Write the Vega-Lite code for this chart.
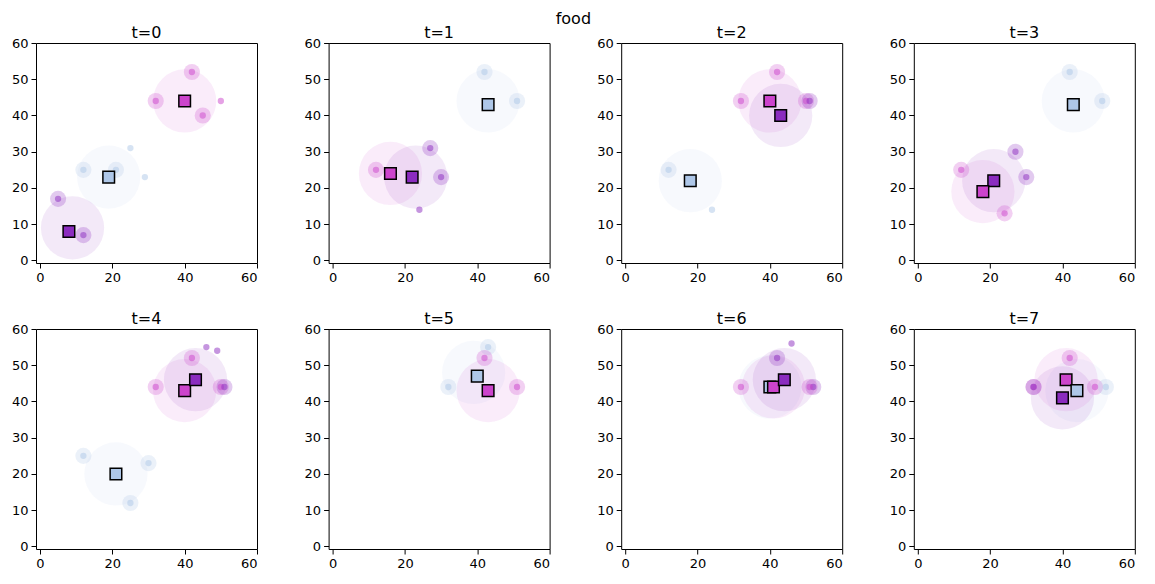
{
  "$schema": "https://vega.github.io/schema/vega-lite/v6.json",
  "padding": {"left": 10, "top": 10, "right": 15, "bottom": 3},
  "title": {"text": "food", "fontSize": 16, "fontWeight": "normal", "font": "DejaVu Sans", "color": "#000", "offset": -2, "anchor": "middle"},
  "data": {"values": [
    {"t":0,"kind":"cloud","c":"pink","x":40,"y":44},
    {"t":0,"kind":"cloud","c":"blue","x":19,"y":23},
    {"t":0,"kind":"cloud","c":"purple","x":9,"y":9},
    {"t":0,"kind":"hot","c":"pink","x":42,"y":52},
    {"t":0,"kind":"hot","c":"pink","x":32,"y":44},
    {"t":0,"kind":"hot","c":"pink","x":45,"y":40},
    {"t":0,"kind":"dot","c":"pink","x":50,"y":44},
    {"t":0,"kind":"hot","c":"blue","x":12,"y":25},
    {"t":0,"kind":"hot","c":"blue","x":21,"y":25},
    {"t":0,"kind":"dot","c":"blue","x":29,"y":23},
    {"t":0,"kind":"dot","c":"blue","x":25,"y":31},
    {"t":0,"kind":"hot","c":"purple","x":5,"y":17},
    {"t":0,"kind":"hot","c":"purple","x":12,"y":7},
    {"t":0,"kind":"agent","c":"pink","x":40,"y":44},
    {"t":0,"kind":"agent","c":"blue","x":19,"y":23},
    {"t":0,"kind":"agent","c":"purple","x":8,"y":8},

    {"t":1,"kind":"cloud","c":"blue","x":43,"y":44},
    {"t":1,"kind":"cloud","c":"pink","x":16,"y":24},
    {"t":1,"kind":"cloud","c":"purple","x":23,"y":23},
    {"t":1,"kind":"hot","c":"blue","x":42,"y":52},
    {"t":1,"kind":"hot","c":"blue","x":51,"y":44},
    {"t":1,"kind":"hot","c":"pink","x":12,"y":25},
    {"t":1,"kind":"hot","c":"purple","x":27,"y":31},
    {"t":1,"kind":"hot","c":"purple","x":30,"y":23},
    {"t":1,"kind":"dot","c":"purple","x":24,"y":14},
    {"t":1,"kind":"agent","c":"blue","x":43,"y":43},
    {"t":1,"kind":"agent","c":"pink","x":16,"y":24},
    {"t":1,"kind":"agent","c":"purple","x":22,"y":23},

    {"t":2,"kind":"cloud","c":"pink","x":40,"y":44},
    {"t":2,"kind":"cloud","c":"purple","x":43,"y":40},
    {"t":2,"kind":"cloud","c":"blue","x":18,"y":22},
    {"t":2,"kind":"hot","c":"pink","x":42,"y":52},
    {"t":2,"kind":"hot","c":"pink","x":32,"y":44},
    {"t":2,"kind":"hot","c":"pink","x":50,"y":44},
    {"t":2,"kind":"hot","c":"purple","x":51,"y":44},
    {"t":2,"kind":"hot","c":"blue","x":12,"y":25},
    {"t":2,"kind":"dot","c":"blue","x":24,"y":14},
    {"t":2,"kind":"agent","c":"pink","x":40,"y":44},
    {"t":2,"kind":"agent","c":"purple","x":43,"y":40},
    {"t":2,"kind":"agent","c":"blue","x":18,"y":22},

    {"t":3,"kind":"cloud","c":"blue","x":43,"y":44},
    {"t":3,"kind":"cloud","c":"pink","x":18,"y":19},
    {"t":3,"kind":"cloud","c":"purple","x":21,"y":22},
    {"t":3,"kind":"hot","c":"blue","x":42,"y":52},
    {"t":3,"kind":"hot","c":"blue","x":51,"y":44},
    {"t":3,"kind":"hot","c":"pink","x":12,"y":25},
    {"t":3,"kind":"hot","c":"pink","x":24,"y":13},
    {"t":3,"kind":"hot","c":"purple","x":27,"y":30},
    {"t":3,"kind":"hot","c":"purple","x":30,"y":23},
    {"t":3,"kind":"agent","c":"blue","x":43,"y":43},
    {"t":3,"kind":"agent","c":"purple","x":21,"y":22},
    {"t":3,"kind":"agent","c":"pink","x":18,"y":19},

    {"t":4,"kind":"cloud","c":"pink","x":40,"y":43},
    {"t":4,"kind":"cloud","c":"purple","x":43,"y":46},
    {"t":4,"kind":"cloud","c":"blue","x":21,"y":20},
    {"t":4,"kind":"hot","c":"pink","x":42,"y":52},
    {"t":4,"kind":"hot","c":"pink","x":32,"y":44},
    {"t":4,"kind":"hot","c":"pink","x":50,"y":44},
    {"t":4,"kind":"hot","c":"purple","x":51,"y":44},
    {"t":4,"kind":"dot","c":"purple","x":46,"y":55},
    {"t":4,"kind":"dot","c":"purple","x":49,"y":54},
    {"t":4,"kind":"hot","c":"blue","x":12,"y":25},
    {"t":4,"kind":"hot","c":"blue","x":30,"y":23},
    {"t":4,"kind":"hot","c":"blue","x":25,"y":12},
    {"t":4,"kind":"agent","c":"pink","x":40,"y":43},
    {"t":4,"kind":"agent","c":"purple","x":43,"y":46},
    {"t":4,"kind":"agent","c":"blue","x":21,"y":20},

    {"t":5,"kind":"cloud","c":"blue","x":39,"y":48},
    {"t":5,"kind":"cloud","c":"pink","x":43,"y":43},
    {"t":5,"kind":"hot","c":"blue","x":32,"y":44},
    {"t":5,"kind":"hot","c":"blue","x":43,"y":55},
    {"t":5,"kind":"hot","c":"pink","x":51,"y":44},
    {"t":5,"kind":"hot","c":"pink","x":42,"y":52},
    {"t":5,"kind":"agent","c":"blue","x":40,"y":47},
    {"t":5,"kind":"agent","c":"pink","x":43,"y":43},

    {"t":6,"kind":"cloud","c":"blue","x":40,"y":44},
    {"t":6,"kind":"cloud","c":"pink","x":41,"y":44},
    {"t":6,"kind":"cloud","c":"purple","x":44,"y":46},
    {"t":6,"kind":"hot","c":"purple","x":42,"y":52},
    {"t":6,"kind":"hot","c":"purple","x":52,"y":44},
    {"t":6,"kind":"hot","c":"pink","x":32,"y":44},
    {"t":6,"kind":"hot","c":"pink","x":51,"y":44},
    {"t":6,"kind":"dot","c":"purple","x":46,"y":56},
    {"t":6,"kind":"agent","c":"blue","x":40,"y":44},
    {"t":6,"kind":"agent","c":"pink","x":41,"y":44},
    {"t":6,"kind":"agent","c":"purple","x":44,"y":46},

    {"t":7,"kind":"cloud","c":"blue","x":44,"y":43},
    {"t":7,"kind":"cloud","c":"purple","x":40,"y":41},
    {"t":7,"kind":"cloud","c":"pink","x":41,"y":46},
    {"t":7,"kind":"hot","c":"pink","x":42,"y":52},
    {"t":7,"kind":"hot","c":"pink","x":32,"y":44},
    {"t":7,"kind":"hot","c":"pink","x":49,"y":44},
    {"t":7,"kind":"hot","c":"purple","x":32,"y":44},
    {"t":7,"kind":"hot","c":"blue","x":52,"y":44},
    {"t":7,"kind":"agent","c":"pink","x":41,"y":46},
    {"t":7,"kind":"agent","c":"blue","x":44,"y":43},
    {"t":7,"kind":"agent","c":"purple","x":40,"y":41}
  ]},
  "facet": {"field": "t", "type": "ordinal", "header": {"labelExpr": "'t=' + datum.value", "title": null, "labelFontSize": 16, "labelFont": "DejaVu Sans", "labelColor": "#000", "labelPadding": -4}},
  "columns": 4,
  "spacing": {"column": 44.6, "row": 25},
  "resolve": {"axis": {"x": "independent", "y": "independent"}},
  "spec": {
    "width": 221,
    "height": 220,
    "encoding": {
      "x": {"field": "x", "type": "quantitative", "scale": {"domain": [-1.1, 60], "nice": false, "zero": false}, "axis": {"values": [0, 20, 40, 60], "title": null, "grid": false}},
      "y": {"field": "y", "type": "quantitative", "scale": {"domain": [-0.7, 60], "nice": false, "zero": false}, "axis": {"values": [0, 10, 20, 30, 40, 50, 60], "title": null, "grid": false}},
      "color": {"field": "c", "type": "nominal", "scale": {"domain": ["pink", "purple", "blue"], "range": ["#cc44cc", "#8b2cbf", "#aec7e8"]}, "legend": null}
    },
    "layer": [
      {"transform": [{"filter": "datum.kind == 'cloud'"}], "mark": {"type": "circle", "size": 4000, "opacity": 0.1, "clip": true}},
      {"transform": [{"filter": "datum.kind == 'hot'"}], "mark": {"type": "circle", "size": 260, "opacity": 0.25, "clip": true}},
      {"transform": [{"filter": "datum.kind == 'hot' || datum.kind == 'dot'"}], "mark": {"type": "circle", "size": 40, "opacity": 0.5, "clip": true}},
      {"transform": [{"filter": "datum.kind == 'agent'"}], "mark": {"type": "square", "size": 135, "opacity": 1, "filled": true, "stroke": "#000", "strokeWidth": 1.5}}
    ]
  },
  "config": {
    "view": {"stroke": "#000", "strokeWidth": 1},
    "axis": {"labelFont": "DejaVu Sans", "labelFontSize": 13, "labelColor": "#000", "tickColor": "#000", "tickSize": 5, "labelPadding": 3, "domain": false, "grid": false}
  }
}
